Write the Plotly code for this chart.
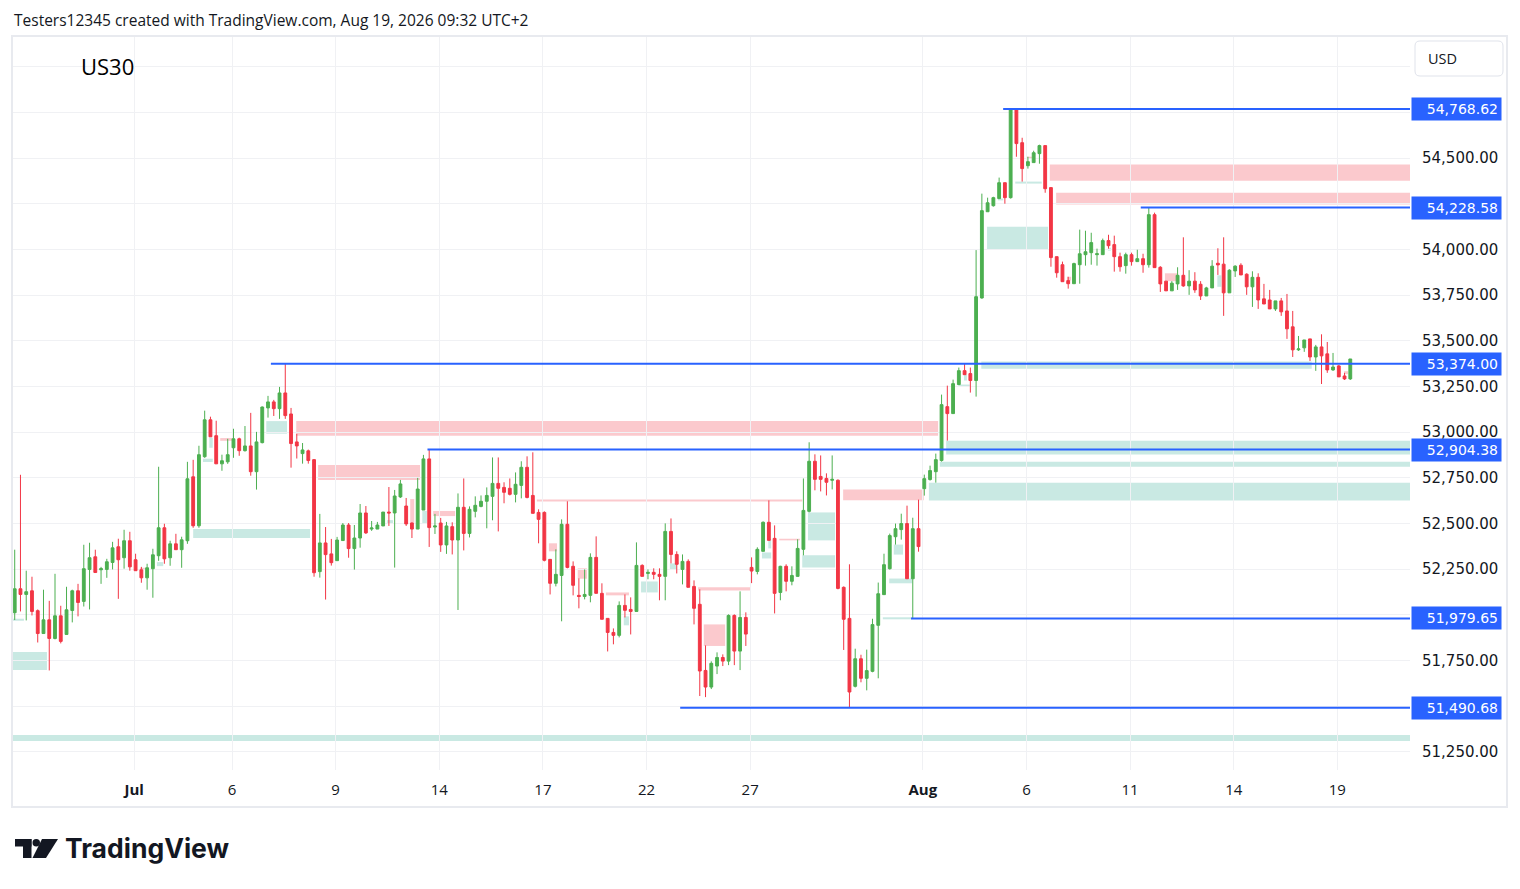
import plotly.graph_objects as go

# ---------------- data (US30, 4h candles) ----------------
opens = [52011, 52142, 52111, 52131, 52022, 51897, 51972, 51870, 51994, 51892,
         52023, 52131, 52073, 52248, 52317, 52246, 52248, 52286, 52372, 52312,
         52405, 52301, 52246, 52202, 52252, 52323, 52476, 52312, 52388, 52356,
         52405, 52755, 52487, 52865, 53067, 52980, 52826, 52837, 52914, 52963,
         52898, 52924, 52783, 52942, 53132, 53165, 53128, 53214, 53099, 52946,
         52882, 52897, 52849, 52236, 52393, 52333, 52296, 52406, 52491, 52362,
         52420, 52557, 52469, 52469, 52486, 52562, 52557, 52645, 52595, 52502,
         52469, 52573, 52853, 52480, 52502, 52382, 52482, 52409, 52588, 52445,
         52566, 52593, 52621, 52648, 52719, 52697, 52692, 52659, 52708, 52807,
         52653, 52560, 52560, 52303, 52172, 52215, 52495, 52265, 52106, 52100,
         52106, 52314, 52117, 51980, 51903, 51887, 52051, 52029, 52018, 52270,
         52226, 52232, 52221, 52210, 52456, 52330, 52248, 52292, 52155, 52057,
         51695, 51604, 51719, 51766, 51746, 51996, 51801, 51985, 52259, 52237,
         52347, 52506, 52418, 52122, 52265, 52183, 52210, 52358, 52566, 52840,
         52757, 52746, 52736, 52736, 52150, 51980, 51608, 51759, 51652, 51690,
         51942, 52110, 52252, 52427, 52466, 52499, 52197, 52471, 52690, 52740,
         52783, 52844, 53139, 53101, 53260, 53336, 53320, 53282, 53734, 54206,
         54239, 54278, 54365, 54283, 54769, 54584, 54458, 54475, 54524, 54568,
         54338, 53960, 53916, 53829, 53812, 53916, 53971, 53982, 53971, 53971,
         54048, 54026, 53960, 53911, 53971, 53933, 53949, 53916, 54190, 53902,
         53826, 53773, 53811, 53858, 53800, 53826, 53809, 53745, 53789, 53924,
         53919, 53762, 53882, 53913, 53864, 53795, 53847, 53729, 53723, 53674,
         53718, 53663, 53576, 53450, 53461, 53510, 53411, 53466, 53428, 53340,
         53362, 53307, 53291]

highs = [52356, 52766, 52241, 52208, 52029, 52137, 52076, 52224, 52049, 52153,
         52137, 52169, 52383, 52394, 52356, 52262, 52306, 52399, 52416, 52465,
         52454, 52334, 52262, 52279, 52361, 52810, 52498, 52405, 52443, 52427,
         52837, 52848, 52925, 53117, 53084, 53062, 52876, 52963, 53018, 52969,
         53033, 53105, 53001, 53140, 53198, 53176, 53247, 53374, 53132, 52990,
         52940, 52904, 52852, 52552, 52480, 52415, 52426, 52502, 52502, 52491,
         52606, 52595, 52513, 52508, 52562, 52699, 52683, 52738, 52639, 52505,
         52749, 52875, 52907, 52552, 52530, 52508, 52506, 52664, 52746, 52593,
         52648, 52653, 52697, 52861, 52861, 52725, 52746, 52779, 52840, 52867,
         52889, 52577, 52566, 52305, 52358, 52522, 52621, 52292, 52199, 52248,
         52336, 52429, 52172, 51982, 51925, 52073, 52111, 52095, 52396, 52276,
         52248, 52254, 52254, 52500, 52527, 52347, 52330, 52303, 52188, 52139,
         51832, 51745, 51794, 51783, 52002, 52002, 52128, 52013, 52314, 52369,
         52511, 52626, 52489, 52268, 52276, 52265, 52413, 52746, 52944, 52878,
         52872, 52774, 52872, 52741, 52155, 52276, 51814, 51781, 51809, 51978,
         52176, 52334, 52444, 52499, 52553, 52597, 52531, 52630, 52767, 52816,
         52882, 53205, 53254, 53287, 53353, 53375, 53353, 53996, 54305, 54283,
         54288, 54393, 54365, 54769, 54769, 54611, 54507, 54540, 54573, 54568,
         54338, 53960, 53933, 53850, 53927, 54108, 54102, 54091, 54004, 54059,
         54080, 54075, 53982, 53982, 53982, 53998, 53976, 54229, 54201, 53908,
         53826, 53826, 53902, 54066, 53886, 53875, 53826, 53795, 53941, 54006,
         54066, 53891, 53913, 53924, 53869, 53880, 53869, 53811, 53778, 53718,
         53734, 53756, 53663, 53526, 53504, 53510, 53477, 53535, 53493, 53433,
         53367, 53324, 53400]

lows = [51971, 52018, 51969, 51996, 51848, 51897, 51695, 51865, 51843, 51892,
        51958, 51991, 52045, 52029, 52231, 52169, 52202, 52248, 52087, 52252,
        52241, 52241, 52175, 52137, 52093, 52295, 52279, 52268, 52356, 52257,
        52388, 52476, 52476, 52859, 52974, 52826, 52788, 52826, 52859, 52870,
        52893, 52761, 52685, 52938, 53079, 53088, 53072, 53072, 52805, 52855,
        52827, 52827, 52208, 52203, 52083, 52269, 52296, 52406, 52312, 52247,
        52367, 52442, 52459, 52469, 52486, 52486, 52258, 52639, 52486, 52420,
        52469, 52573, 52371, 52442, 52344, 52333, 52330, 52026, 52352, 52423,
        52533, 52588, 52473, 52517, 52456, 52610, 52653, 52615, 52637, 52637,
        52555, 52391, 52292, 52111, 52155, 51964, 52254, 52106, 52035, 52084,
        52068, 52117, 51975, 51799, 51838, 51876, 51985, 51892, 52018, 52210,
        52194, 52194, 52079, 52079, 52281, 52226, 52166, 52150, 51947, 51555,
        51549, 51593, 51675, 51719, 51724, 51724, 51697, 51829, 52173, 52221,
        52347, 52407, 52007, 52079, 52128, 52161, 52208, 52325, 52560, 52681,
        52675, 52653, 52686, 52139, 51807, 51491, 51602, 51630, 51586, 51685,
        51652, 52110, 52247, 52384, 52411, 52197, 51980, 52345, 52652, 52734,
        52723, 52838, 52953, 53101, 53260, 53314, 53216, 53194, 53730, 54206,
        54234, 54278, 54250, 54278, 54507, 54371, 54442, 54475, 54469, 54310,
        53905, 53845, 53823, 53785, 53812, 53812, 53911, 53916, 53911, 53971,
        54004, 53878, 53878, 53867, 53911, 53933, 53872, 53900, 53900, 53767,
        53773, 53773, 53778, 53795, 53751, 53762, 53723, 53745, 53789, 53860,
        53636, 53762, 53849, 53860, 53751, 53685, 53674, 53701, 53674, 53663,
        53636, 53510, 53411, 53444, 53439, 53389, 53335, 53263, 53324, 53335,
        53302, 53285, 53285]

closes = [52142, 52111, 52126, 52018, 51897, 51972, 51870, 51994, 51854, 52027,
          52131, 52067, 52252, 52312, 52231, 52252, 52290, 52366, 52301, 52405,
          52262, 52241, 52202, 52257, 52328, 52476, 52306, 52388, 52356, 52410,
          52744, 52487, 52876, 53067, 52974, 52826, 52843, 52876, 52963, 52898,
          52924, 52783, 52946, 53137, 53165, 53128, 53214, 53090, 52937, 52924,
          52902, 52844, 52230, 52393, 52329, 52285, 52409, 52491, 52362, 52420,
          52557, 52448, 52475, 52491, 52562, 52557, 52650, 52716, 52497, 52469,
          52688, 52853, 52477, 52486, 52382, 52486, 52409, 52588, 52445, 52577,
          52599, 52621, 52653, 52719, 52692, 52670, 52659, 52714, 52807, 52642,
          52555, 52522, 52298, 52172, 52221, 52495, 52259, 52161, 52100, 52111,
          52314, 52117, 51975, 51903, 51887, 52051, 52024, 52018, 52270, 52210,
          52232, 52221, 52210, 52456, 52330, 52276, 52292, 52150, 52035, 51692,
          51604, 51734, 51766, 51746, 51996, 51801, 51985, 51894, 52239, 52358,
          52506, 52407, 52117, 52265, 52183, 52215, 52363, 52571, 52840, 52741,
          52741, 52725, 52741, 52144, 51975, 51577, 51759, 51652, 51694, 51946,
          52115, 52274, 52433, 52471, 52499, 52197, 52471, 52373, 52745, 52789,
          52849, 53150, 53101, 53265, 53336, 53314, 53282, 53741, 54212, 54255,
          54283, 54365, 54283, 54769, 54579, 54442, 54480, 54529, 54568, 54332,
          53955, 53872, 53823, 53812, 53922, 53976, 53987, 54037, 53976, 54048,
          54020, 53960, 53905, 53971, 53933, 53949, 53916, 54190, 53900, 53811,
          53773, 53815, 53858, 53800, 53826, 53778, 53745, 53789, 53908, 53915,
          53762, 53886, 53908, 53860, 53795, 53847, 53723, 53701, 53674, 53718,
          53658, 53565, 53450, 53455, 53504, 53411, 53466, 53417, 53340, 53356,
          53302, 53291, 53400]

# time-axis labels and the candle each date starts on
date_labels = ["<b>Jul</b>", "6", "9", "14", "17", "22", "27", "<b>Aug</b>", "6", "11", "14", "19"]
date_first_candle = [21, 38, 56, 74, 92, 110, 128, 158, 176, 194, 212, 230]

# price axis
price_ticks = [51250 + 250 * k for k in range(16)]
price_ticks_hidden = [55000, 54750, 54250, 52000, 51500]

# drawn horizontal levels (price, candle where the line starts)
level_prices = [54768.62, 54228.58, 53374.00, 52904.38, 51979.65, 51490.68]
level_from = [171.7, 195.6, 44.5, 71.7, 155.7, 115.6]

# bearish (pink) zones: start candle, end candle (None = extends right), top, bottom
supply_x0 = [35.7, 21.8, 48.9, 52.7, 68.7, 72.7, 90.7, 92.8, 97.8, 102.7,
             118.7, 119.7, 132.8, 143.9, 179.8, 180.9, 175.8, 182.8, 199.8, 230.9]
supply_x1 = [37.8, 22.6, 160.4, 70.4, 69.4, 76.5, 136.8, 94.2, 99.4, 106.7,
             127.9, 123.4, 136.4, 157.9, None, None, 176.7, 183.5, 201.9, 231.6]
supply_top = [52967, 52257, 53060, 52819, 52633, 52568, 52631, 52391, 52254, 52122,
              52150, 51947, 52416, 52686, 54464, 54310, 54507, 53850, 53869, 53333]
supply_bottom = [52952, 52245, 52980, 52737, 52502, 52540, 52620, 52347, 52197, 52106,
                 52133, 51829, 52407, 52626, 54376, 54245, 54496, 53829, 53826, 53317]

# bullish (teal) zones
demand_x0 = [-1, -1, 31.0, 24.7, 33.8, 32.7, 43.7, 64.7, 70.8, 105.8,
             108.8, 113.8, 130.9, 129.8, 137.8, 136.8, 150.8, 151.9, 152.7, 158.8,
             160.7, 161.8, 163.9, 164.9, 167.9, 168.9, 173.8, 170.8, 189.9, 208.9, -1]
demand_x1 = [5.6, 1.6, 51.3, 25.8, 34.4, 34.4, 47.3, 65.7, 71.6, 106.7,
             111.7, 115.0, 131.4, 131.4, 142.5, 142.5, 155.9, 155.9, 154.3, None,
             None, None, 165.9, 165.4, 225.3, 179.5, 178.4, 171.7, 190.4, 209.6, None]
demand_top = [51796, 51978, 52469, 52288, 52969, 52854, 53060, 52518, 52568, 51991,
              52182, 52281, 52413, 52341, 52560, 52325, 51986, 52198, 52384, 52723,
              52838, 52953, 53260, 53315, 53386, 54124, 54371, 54278, 54009, 53858, 51342]
demand_bottom = [51697, 51967, 52420, 52266, 52914, 52836, 52991, 52497, 52497, 51942,
                 52122, 52248, 52363, 52308, 52407, 52259, 51975, 52172, 52329, 52625,
                 52810, 52877, 53249, 53282, 53347, 53998, 54360, 54268, 53993, 53795, 51309]

# ---------------- layout geometry / styles ----------------
W, H = 1520, 889
ML, MR, MT, MB = 12, 110, 36, 119
PW, PH = W - ML - MR, H - MT - MB
X_MIN, X_MAX = -0.47, 242.37
Y_MIN, Y_MAX = 51150, 55168

UP, DOWN = "#4caf50", "#f23645"
BLUE = "#2962ff"
GRID = "#f0f1f4"
TEXT = "#131722"
FONT = "Open Sans"
AXFONT = "DejaVu Sans"


def px(xp):
    return (xp - ML) / PW


def py(yp):
    return (H - MB - yp) / PH


def poly(points):
    return "M " + " L ".join(f"{px(a):.5f},{py(b):.5f}" for a, b in points) + " Z"


def rounded_rect(x0, y0, x1, y1, r):
    p = lambda a, b: f"{px(a):.5f},{py(b):.5f}"
    return (f"M {p(x0 + r, y0)} L {p(x1 - r, y0)} Q {p(x1, y0)} {p(x1, y0 + r)} "
            f"L {p(x1, y1 - r)} Q {p(x1, y1)} {p(x1 - r, y1)} L {p(x0 + r, y1)} "
            f"Q {p(x0, y1)} {p(x0, y1 - r)} L {p(x0, y0 + r)} Q {p(x0, y0)} {p(x0 + r, y0)} Z")


fig = go.Figure()
fig.add_trace(go.Candlestick(
    x=list(range(len(opens))), open=opens, high=highs, low=lows, close=closes,
    increasing=dict(line=dict(color=UP, width=1), fillcolor=UP),
    decreasing=dict(line=dict(color=DOWN, width=1), fillcolor=DOWN),
    whiskerwidth=0, hoverinfo="skip", showlegend=False,
))

shapes = []
for x0, x1, t, b in zip(supply_x0, supply_x1, supply_top, supply_bottom):
    shapes.append(dict(type="rect", xref="x", yref="y", x0=x0, x1=X_MAX + 1 if x1 is None else x1,
                       y0=b, y1=t, fillcolor="rgba(242,54,69,0.27)", line=dict(width=0), layer="below"))
for x0, x1, t, b in zip(demand_x0, demand_x1, demand_top, demand_bottom):
    shapes.append(dict(type="rect", xref="x", yref="y", x0=x0, x1=X_MAX + 1 if x1 is None else x1,
                       y0=b, y1=t, fillcolor="rgba(8,153,129,0.22)", line=dict(width=0), layer="below"))
for lv, x0 in zip(level_prices, level_from):
    shapes.append(dict(type="line", xref="x", yref="y", x0=x0, x1=X_MAX + 1, y0=lv, y1=lv,
                       line=dict(color=BLUE, width=2), layer="above"))

# pane border
shapes.append(dict(type="rect", xref="paper", yref="paper", x0=px(12), x1=px(1507), y0=py(807), y1=py(36),
                   line=dict(color="#e8eaef", width=2), fillcolor="rgba(0,0,0,0)", layer="above"))

# currency box
shapes.append(dict(type="path", xref="paper", yref="paper", path=rounded_rect(1415, 41, 1503, 76, 5),
                   fillcolor="white", line=dict(color="#e0e3eb", width=1), layer="above"))

# TradingView mark (decoration)
logo_fill = "#131722"
shapes.append(dict(type="rect", xref="paper", yref="paper", x0=px(15), x1=px(31.5), y0=py(846.5), y1=py(839),
                   fillcolor=logo_fill, line=dict(width=0)))
shapes.append(dict(type="rect", xref="paper", yref="paper", x0=px(23), x1=px(31.5), y0=py(858), y1=py(839),
                   fillcolor=logo_fill, line=dict(width=0)))
shapes.append(dict(type="circle", xref="paper", yref="paper", x0=px(32.5), x1=px(40), y0=py(846.5), y1=py(839),
                   fillcolor=logo_fill, line=dict(width=0)))
shapes.append(dict(type="path", xref="paper", yref="paper",
                   path=poly([(42, 839), (58, 839), (46, 858), (32.5, 858)]),
                   fillcolor=logo_fill, line=dict(width=0)))

annotations = []
for lv in level_prices:
    annotations.append(dict(xref="paper", yref="y", x=1, y=lv, xanchor="left", yanchor="middle", xshift=1,
                            text=f"{lv:,.2f}", showarrow=False, align="right", width=83, height=16,
                            borderpad=3, bgcolor=BLUE, font=dict(family=AXFONT, size=14, color="white")))
annotations.append(dict(xref="paper", yref="paper", x=px(1426), y=py(58.5), xanchor="left", yanchor="middle",
                        text="USD", showarrow=False, font=dict(family=FONT, size=14.5, color=TEXT)))
annotations.append(dict(xref="paper", yref="paper", x=px(12), y=py(20), xanchor="left", yanchor="middle",
                        text="Testers12345 created with TradingView.com, Aug 19, 2026 09:32 UTC+2",
                        showarrow=False, font=dict(family=FONT, size=15.5, color=TEXT)))
annotations.append(dict(xref="paper", yref="paper", x=px(79), y=py(66), xanchor="left", yanchor="middle",
                        text="US30", showarrow=False, font=dict(family=FONT, size=22, color="#000000")))
annotations.append(dict(xref="paper", yref="paper", x=px(63), y=py(848), xanchor="left", yanchor="middle",
                        text="<b>TradingView</b>", showarrow=False,
                        font=dict(family="Inter", size=26.5, color=logo_fill)))

fig.update_layout(
    width=W, height=H, margin=dict(l=ML, r=MR, t=MT, b=MB),
    paper_bgcolor="white", plot_bgcolor="white",
    boxgap=0.3, showlegend=False, hovermode=False,
    shapes=shapes, annotations=annotations,
    xaxis=dict(range=[X_MIN, X_MAX], rangeslider=dict(visible=False), fixedrange=True,
               tickmode="array", tickvals=[c - 0.25 for c in date_first_candle], ticktext=date_labels,
               showgrid=True, gridcolor=GRID, gridwidth=1, zeroline=False, showline=False,
               ticks="", ticklabelstandoff=9, tickfont=dict(family=FONT, size=15, color=TEXT)),
    yaxis=dict(range=[Y_MIN, Y_MAX], side="right", tickmode="array", tickvals=price_ticks, fixedrange=True,
               ticktext=["" if p in price_ticks_hidden else f"{p:,.2f}" for p in price_ticks],
               showgrid=True, gridcolor=GRID, gridwidth=1, zeroline=False, showline=False,
               ticks="", ticklabelstandoff=11, tickfont=dict(family=AXFONT, size=15, color=TEXT)),
)

fig.write_html("out.html", config={"displayModeBar": False},
               post_script="document.body.style.margin='0px';")
